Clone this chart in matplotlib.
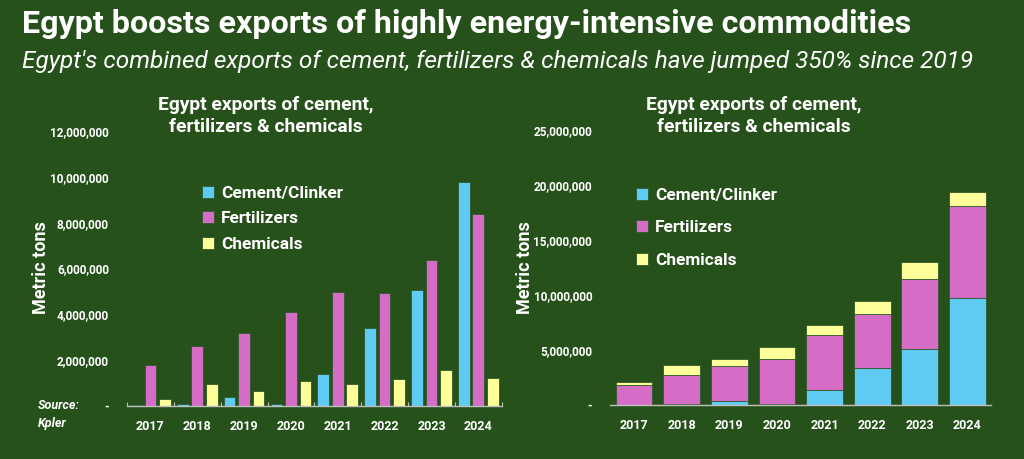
import matplotlib
matplotlib.use("Agg")
import matplotlib.pyplot as plt
import numpy as np
from matplotlib.ticker import FuncFormatter, FixedLocator

plt.rcParams['font.family'] = ['Roboto', 'DejaVu Sans']

# data (metric tons)
years = ['2017', '2018', '2019', '2020', '2021', '2022', '2023', '2024']
cement = [40000, 90000, 410000, 90000, 1410000, 3390000, 5080000, 9760000]
fertilizers = [1790000, 2600000, 3170000, 4100000, 4970000, 4910000, 6350000, 8370000]
chemicals = [290000, 940000, 640000, 1090000, 940000, 1180000, 1550000, 1210000]
series_names = ['Cement/Clinker', 'Fertilizers', 'Chemicals']

title = 'Egypt boosts exports of highly energy-intensive commodities'
subtitle = "Egypt's combined exports of cement, fertilizers & chemicals have jumped 350% since 2019"
chart_title = 'Egypt exports of cement,\nfertilizers & chemicals'

BG = '#27511a'
COLORS = ['#5fcbf2', '#d56cc6', '#ffff99']
EDGE = '#2f5a2a'
AXIS = '#bfbfbf'


def fmt(v, pos):
    if v == 0:
        return '-'
    return f'{v:,.0f}'


fig = plt.figure(figsize=(10.24, 4.59), dpi=100)
fig.patch.set_facecolor(BG)

fig.text(0.021, 0.948, title, color='white', fontsize=23.2, fontweight='bold', va='center', ha='left')
fig.text(0.021, 0.866, subtitle, color='white', fontsize=17.6, style='italic', va='center', ha='left')

x = np.arange(len(years))

# left: clustered bars
ax1 = fig.add_axes([0.124, 0.1155, 0.366, 0.599])
ax1.set_facecolor(BG)
w = 0.25
for i, (vals, c) in enumerate(zip([cement, fertilizers, chemicals], COLORS)):
    ax1.bar(x + (i - 1) * 0.31, vals, width=w, color=c, edgecolor=EDGE, linewidth=0.6,
            label=series_names[i])
ax1.set_xlim(-0.5, len(years) - 0.5)
ax1.set_ylim(0, 12000000)
ax1.set_yticks(np.arange(0, 12000001, 2000000))
ax1.yaxis.set_major_formatter(FuncFormatter(fmt))
ax1.xaxis.set_minor_locator(FixedLocator(np.arange(-0.5, len(years), 1)))
ax1.tick_params(axis='x', which='minor', direction='in', length=3, color=AXIS, width=0.8)
ax1.legend(loc='upper left', bbox_to_anchor=(0.182, 0.629), bbox_transform=fig.transFigure,
           frameon=False, labelcolor='white', handlelength=0.7, handleheight=0.7,
           handletextpad=0.4, labelspacing=0.6, prop={'weight': 'bold', 'size': 12.4})

# right: stacked bars
ax2 = fig.add_axes([0.596, 0.1176, 0.372, 0.599])
ax2.set_facecolor(BG)
bottom = np.zeros(len(years))
for i, (vals, c) in enumerate(zip([cement, fertilizers, chemicals], COLORS)):
    ax2.bar(x, vals, bottom=bottom, width=0.77, color=c, edgecolor=EDGE, linewidth=0.6,
            label=series_names[i])
    bottom += np.array(vals)
ax2.set_xlim(-0.5, len(years) - 0.5)
ax2.set_ylim(0, 25000000)
ax2.set_yticks(np.arange(0, 25000001, 5000000))
ax2.yaxis.set_major_formatter(FuncFormatter(fmt))
ax2.legend(loc='upper left', bbox_to_anchor=(0.606, 0.624), bbox_transform=fig.transFigure,
           frameon=False, labelcolor='white', handlelength=0.7, handleheight=0.7,
           handletextpad=0.4, labelspacing=1.0, prop={'weight': 'bold', 'size': 12.4})

for ax, tx in [(ax1, 0.2595), (ax2, 0.7365)]:
    for s in ['top', 'right', 'left']:
        ax.spines[s].set_visible(False)
    ax.spines['bottom'].set_color(AXIS)
    ax.spines['bottom'].set_linewidth(1)
    ax.set_xticks(x)
    ax.set_xticklabels(years)
    ax.tick_params(axis='x', which='major', length=0, pad=10, labelsize=9, labelcolor='white')
    ax.tick_params(axis='y', length=0, pad=13, labelsize=8.5, labelcolor='white')
    for lb in ax.get_xticklabels() + ax.get_yticklabels():
        lb.set_fontweight('bold')
    fig.text(tx, 0.748, chart_title, color='white', fontsize=13.9, fontweight='bold',
             ha='center', va='center', linespacing=1.3)

fig.text(0.04, 0.416, 'Metric tons', color='white', fontsize=13, fontweight='bold',
         rotation=90, ha='center', va='center')
fig.text(0.513, 0.416, 'Metric tons', color='white', fontsize=13, fontweight='bold',
         rotation=90, ha='center', va='center')

fig.text(0.037, 0.098, 'Source:\nKpler', color='white', fontsize=9, fontweight='bold',
         style='italic', ha='left', va='center', linespacing=1.5)

fig.savefig('out.png', dpi=100, facecolor=BG)
